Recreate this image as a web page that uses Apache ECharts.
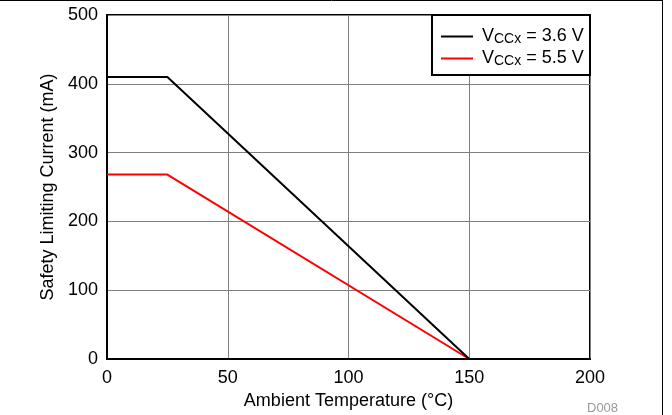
<!DOCTYPE html>
<html>
<head>
<meta charset="utf-8">
<script src="https://cdn.jsdelivr.net/npm/echarts@6/dist/echarts.min.js"></script>
<style>
  html, body { margin: 0; padding: 0; background: #fff; }
  #chart { width: 672px; height: 415px; }
</style>
</head>
<body>
<div id="chart"></div>
<script>
// Safety limiting current vs ambient temperature
const temps = [0, 25, 150];
const current36 = [410, 410, 0];   // VCCx = 3.6 V
const current55 = [268, 268, 0];   // VCCx = 5.5 V
const xTicks = [0, 50, 100, 150, 200];
const yTicks = [0, 100, 200, 300, 400, 500];
const seriesNames = ['3.6 V', '5.5 V'];

const FONT = '"Liberation Sans", Arial, sans-serif';

function pairs(xs, ys) { return xs.map((x, i) => [x, ys[i]]); }

const chart = echarts.init(document.getElementById('chart'), null, { renderer: 'canvas' });

chart.setOption({
  animation: false,
  backgroundColor: '#fff',
  textStyle: { fontFamily: FONT },
  grid: { left: 107, right: 82, top: 15, bottom: 56, show: true, borderColor: '#000', borderWidth: 2, backgroundColor: 'transparent' },
  xAxis: {
    type: 'value', min: xTicks[0], max: xTicks[xTicks.length - 1], interval: 50,
    name: 'Ambient Temperature (°C)', nameLocation: 'middle', nameGap: 31,
    nameTextStyle: { fontSize: 18, color: '#000', fontFamily: FONT },
    axisLine: { show: true, lineStyle: { color: '#000', width: 2 } },
    axisTick: { show: false },
    axisLabel: { fontSize: 18, color: '#000', margin: 10, fontFamily: FONT },
    splitLine: { show: true, lineStyle: { color: '#808080', width: 1 } }
  },
  yAxis: {
    type: 'value', min: yTicks[0], max: yTicks[yTicks.length - 1], interval: 100,
    name: 'Safety Limiting Current (mA)', nameLocation: 'middle', nameGap: 46,
    nameTextStyle: { fontSize: 18, color: '#000', fontFamily: FONT },
    axisLine: { show: true, lineStyle: { color: '#000', width: 2 } },
    axisTick: { show: false },
    axisLabel: { fontSize: 18, color: '#000', margin: 9, fontFamily: FONT },
    splitLine: { show: true, lineStyle: { color: '#808080', width: 1 } }
  },
  legend: {
    orient: 'vertical', left: 441, top: 27,
    padding: 0,
    itemGap: 3, itemWidth: 32, itemHeight: 16,
    icon: 'path://M0,7L32,7L32,9L0,9Z',
    data: seriesNames,
    formatter: name => '{v|V}{s|CCx}{v| = ' + name + '}',
    textStyle: {
      fontFamily: FONT, color: '#000', padding: [0, 0, 0, 4],
      rich: {
        v: { fontSize: 18, lineHeight: 16, fontFamily: FONT, color: '#000' },
        s: { fontSize: 14, lineHeight: 16, fontFamily: FONT, color: '#000', padding: [5, 0, 0, 0] }
      }
    }
  },
  series: [
    {
      name: seriesNames[0], type: 'line', data: pairs(temps, current36),
      symbol: 'none', lineStyle: { color: '#000', width: 2 }, itemStyle: { color: '#000' }, z: 3
    },
    {
      name: seriesNames[1], type: 'line', data: pairs(temps, current55),
      symbol: 'none', lineStyle: { color: '#ff0000', width: 2 }, itemStyle: { color: '#ff0000' }, z: 2
    }
  ],
  graphic: [
    // legend frame
    { type: 'rect', shape: { x: 432, y: 15, width: 158, height: 60 }, style: { fill: '#fff', stroke: '#000', lineWidth: 2 }, z: 4 },
    // outer frame lines along top and right edges
    { type: 'line', shape: { x1: 0, y1: 0.5, x2: 663, y2: 0.5 }, style: { stroke: '#000', lineWidth: 1 } },
    { type: 'line', shape: { x1: 662.5, y1: 0, x2: 662.5, y2: 415 }, style: { stroke: '#000', lineWidth: 1 } },
    { type: 'text', left: 587, top: 402, style: { text: 'D008', fontSize: 13, fill: '#999', fontFamily: FONT } }
  ]
});
</script>
</body>
</html>
